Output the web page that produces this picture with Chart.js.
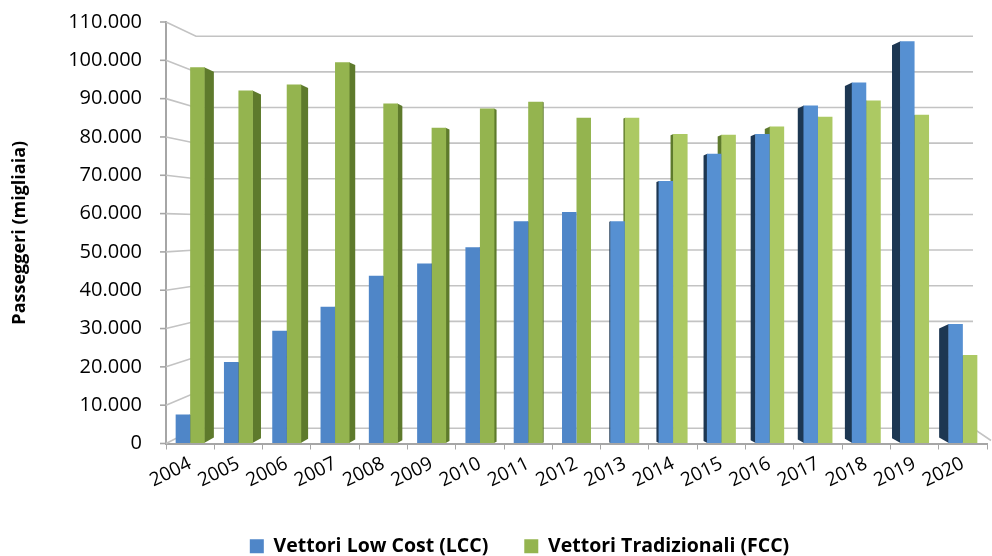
<!DOCTYPE html>
<html lang="it">
<head>
<meta charset="UTF-8" />
<title>Passeggeri LCC vs FCC</title>
<script src="https://cdn.jsdelivr.net/npm/chart.js"></script>
<style>
  html, body { margin: 0; padding: 0; background: #ffffff; }
  #wrap { width: 992px; height: 556px; }
</style>
</head>
<body>
<div id="wrap"><canvas id="chart" width="992" height="556"></canvas></div>
<script>
// data (migliaia di passeggeri)
const years = ['2004','2005','2006','2007','2008','2009','2010','2011','2012','2013','2014','2015','2016','2017','2018','2019','2020'];
const lcc = [7600, 21300, 29400, 35700, 43800, 47000, 51200, 58000, 60400, 58000, 68500, 75600, 80800, 88200, 94200, 105000, 31200];
const fcc = [98200, 92100, 93700, 99500, 88700, 82400, 87400, 89200, 85000, 85000, 80800, 80600, 82700, 85300, 89500, 85800, 23100];
const yMax = 110000;
const yStep = 10000;

const FONT = '"Open Sans", "Liberation Sans", sans-serif';

function fmt(v) {
  return String(v).replace(/\B(?=(\d{3})+(?!\d))/g, '.');
}

// back wall gridlines drawn in a fake perspective + dark side faces of the columns
const fake3d = {
  id: 'fake3d',
  afterLayout(chart) {
    // legend sits a bit right of the canvas centre in the original
    chart.legend.left += 26;
    chart.legend.right += 26;
  },
  beforeDatasetsDraw(chart) {
    const ctx = chart.ctx;
    const area = chart.chartArea;
    const ys = chart.scales.y;
    const c = area.top + (area.bottom - area.top) * 0.483;
    const back = yf => c + (yf - c) * 0.93;
    const slant = 30;
    const wallRight = area.right - 14;

    ctx.save();
    ctx.strokeStyle = '#c3c3c3';
    ctx.lineWidth = 1.6;
    ys.ticks.forEach(t => {
      const yf = ys.getPixelForValue(t.value);
      const yb = back(yf);
      ctx.beginPath();
      ctx.moveTo(area.left, yf);
      ctx.lineTo(area.left + slant, yb);
      ctx.lineTo(wallRight, yb);
      if (t.value === 0) ctx.lineTo(area.right + 4, area.bottom - 3);
      ctx.stroke();
      // small tick marks on the value axis
      ctx.beginPath();
      ctx.strokeStyle = '#a6a6a6';
      ctx.moveTo(area.left - 6, yf);
      ctx.lineTo(area.left, yf);
      ctx.stroke();
      ctx.strokeStyle = '#c3c3c3';
    });

    // side faces, pointing towards the middle of the chart
    const cx = (area.left + area.right) / 2;
    const half = (area.right - area.left) / 2;
    const sideCols = ['#1d3752', '#5e7a2c'];
    chart.data.datasets.forEach((ds, di) => {
      const meta = chart.getDatasetMeta(di);
      meta.data.forEach(el => {
        const w = el.width;
        const s = el.x < cx ? 1 : -1;
        const d = 10 * Math.abs(el.x - cx) / half;
        if (d < 0.5) return;
        const edge = el.x + s * w / 2;
        ctx.fillStyle = sideCols[di];
        ctx.beginPath();
        ctx.moveTo(edge - s * 0.5, el.y);
        ctx.lineTo(edge + s * d, el.y + d * 0.5);
        ctx.lineTo(edge + s * d, el.base - d * 0.6);
        ctx.lineTo(edge - s * 0.5, el.base);
        ctx.closePath();
        ctx.fill();
      });
    });
    ctx.restore();
  }
};

new Chart(document.getElementById('chart'), {
  type: 'bar',
  data: {
    labels: years,
    datasets: [
      {
        label: 'Vettori Low Cost (LCC)',
        data: lcc,
        backgroundColor: ctx => (ctx.dataIndex !== undefined && ctx.dataIndex > 8) ? '#5690d2' : '#4f86c8'
      },
      {
        label: 'Vettori Tradizionali (FCC)',
        data: fcc,
        backgroundColor: ctx => (ctx.dataIndex !== undefined && ctx.dataIndex > 8) ? '#acc963' : '#94b44f'
      }
    ]
  },
  options: {
    responsive: false,
    animation: false,
    categoryPercentage: 0.6,
    barPercentage: 1.0,
    layout: { padding: { top: 22, right: 5, left: 0, bottom: -10 } },
    scales: {
      x: {
        grid: { display: true, drawOnChartArea: false, tickLength: 6, color: '#a6a6a6', offset: true },
        border: { display: true, color: '#a6a6a6', width: 2 },
        ticks: {
          color: '#000000',
          font: { family: FONT, size: 19 },
          minRotation: 26,
          maxRotation: 26,
          autoSkip: false,
          padding: 3
        },
        afterFit(scale) { scale.height = 57; }
      },
      y: {
        min: 0,
        max: yMax,
        // invisible tick marks only push the labels away from the axis
        grid: { display: true, drawOnChartArea: false, tickLength: 22, color: 'rgba(0,0,0,0)' },
        border: { display: true, color: '#a6a6a6', width: 2 },
        ticks: {
          stepSize: yStep,
          color: '#000000',
          padding: 2,
          font: { family: FONT, size: 20 },
          callback: v => fmt(v)
        },
        title: {
          display: true,
          text: 'Passeggeri (migliaia)',
          color: '#000000',
          font: { family: FONT, size: 18, weight: 'bold' },
          padding: { top: 9, bottom: 0 }
        },
        afterFit(scale) { scale.width = 166; }
      }
    },
    plugins: {
      legend: {
        position: 'bottom',
        labels: {
          color: '#000000',
          boxWidth: 14,
          boxHeight: 14,
          padding: 36,
          font: { family: FONT, size: 19.5, weight: 'bold' }
        }
      },
      tooltip: { enabled: false }
    }
  },
  plugins: [fake3d]
});
</script>
</body>
</html>
